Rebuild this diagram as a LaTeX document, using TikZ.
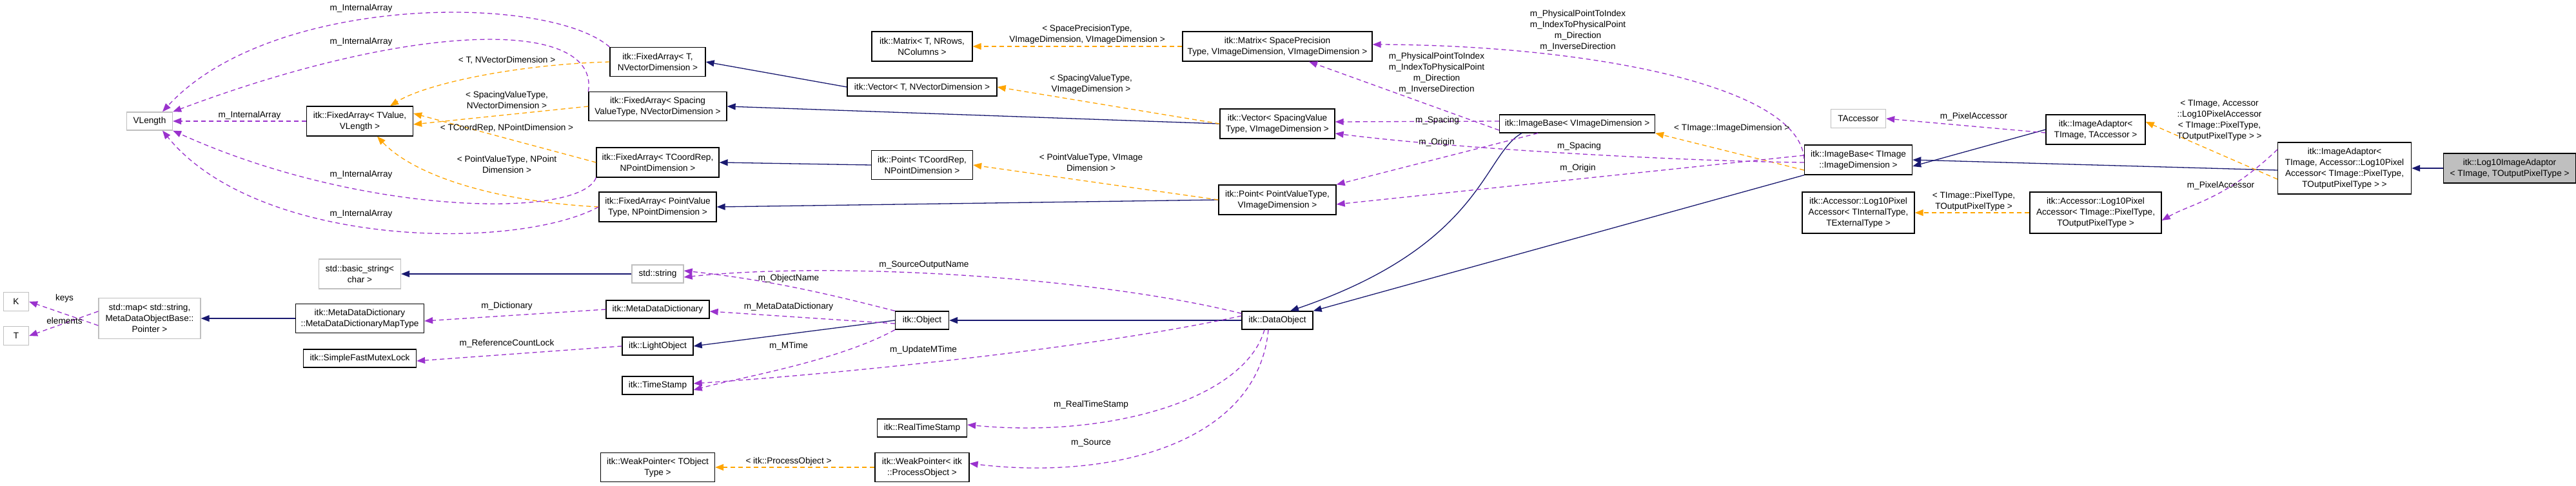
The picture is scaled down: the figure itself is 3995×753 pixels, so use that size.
\documentclass[tikz,border=0pt]{standalone}
\usepackage{fontspec}
\setmainfont{Liberation Sans}
\usetikzlibrary{arrows.meta}
\definecolor{inh}{HTML}{191970}
\definecolor{use}{HTML}{9A32CD}
\definecolor{tpl}{HTML}{FFA500}
\definecolor{ext}{HTML}{BFBFBF}
\begin{document}
\begin{tikzpicture}[x=1pt,y=-1pt,
  font=\fontsize{13.6}{17}\selectfont,
  box/.style={draw=black,line width=1.3pt,fill=white,align=center,inner sep=2pt},
  xbox/.style={box,draw=ext},
  lbl/.style={align=center,inner sep=0pt,fill=none},
  tip/.style={-{Triangle[length=13pt,width=10pt]}},
  inhe/.style={tip,draw=inh,line width=1.3pt},
  usee/.style={tip,draw=use,line width=1.3pt,dash pattern=on 7pt off 5pt},
  tple/.style={tip,draw=tpl,line width=1.3pt,dash pattern=on 7pt off 5pt}]
\useasboundingbox[fill=white] (0,0) rectangle (3995,753);
% nodes
\node[xbox,minimum width=71pt,minimum height=28pt] (vlen) at (232,188) {VLength};
\node[box,minimum width=165pt,minimum height=46pt] (fav) at (558,188) {itk::FixedArray< TValue,\\VLength >};
\node[box,minimum width=148pt,minimum height=45pt] (fat) at (1020,96) {itk::FixedArray< T,\\NVectorDimension >};
\node[box,minimum width=214pt,minimum height=45pt] (fas) at (1020,165) {itk::FixedArray< Spacing\\ValueType, NVectorDimension >};
\node[box,minimum width=190pt,minimum height=46pt] (fac) at (1020,252) {itk::FixedArray< TCoordRep,\\NPointDimension >};
\node[box,minimum width=182pt,minimum height=46pt] (fap) at (1020,321) {itk::FixedArray< PointValue\\Type, NPointDimension >};
\node[box,minimum width=156pt,minimum height=46pt] (mt) at (1430,72) {itk::Matrix< T, NRows,\\NColumns >};
\node[box,minimum width=232pt,minimum height=28pt] (vt) at (1430,135) {itk::Vector< T, NVectorDimension >};
\node[box,minimum width=157pt,minimum height=45pt] (pt) at (1430,256) {itk::Point< TCoordRep,\\NPointDimension >};
\node[box,minimum width=294pt,minimum height=46pt] (ms) at (1981,72) {itk::Matrix< SpacePrecision\\Type, VImageDimension, VImageDimension >};
\node[box,minimum width=178pt,minimum height=46pt] (vs) at (1981,192) {itk::Vector< SpacingValue\\Type, VImageDimension >};
\node[box,minimum width=182pt,minimum height=46pt] (pp) at (1981,310) {itk::Point< PointValueType,\\VImageDimension >};
\node[box,minimum width=241pt,minimum height=28pt] (ibv) at (2446,192) {itk::ImageBase< VImageDimension >};
\node[xbox,minimum width=85pt,minimum height=29pt] (tacc) at (2882,184) {TAccessor};
\node[box,minimum width=167pt,minimum height=46pt] (ibt) at (2882,248) {itk::ImageBase< TImage\\::ImageDimension >};
\node[box,minimum width=154pt,minimum height=46pt] (iat) at (3250,201) {itk::ImageAdaptor<\\TImage, TAccessor >};
\node[box,minimum width=207pt,minimum height=80pt] (ial) at (3636,261) {itk::ImageAdaptor<\\TImage, Accessor::Log10Pixel\\Accessor< TImage::PixelType,\\TOutputPixelType > >};
\node[box,fill=ext,minimum width=205pt,minimum height=46pt] (log) at (3892,261) {itk::Log10ImageAdaptor\\< TImage, TOutputPixelType >};
\node[box,minimum width=204pt,minimum height=64pt] (acp) at (3250,330) {itk::Accessor::Log10Pixel\\Accessor< TImage::PixelType,\\TOutputPixelType >};
\node[box,minimum width=174pt,minimum height=64pt] (aci) at (2882,330) {itk::Accessor::Log10Pixel\\Accessor< TInternalType,\\TExternalType >};
\node[xbox,minimum width=127pt,minimum height=46pt] (bstr) at (558,425) {std::basic\_string<\\char >};
\node[xbox,minimum width=39pt,minimum height=29pt] (k) at (25,468) {K};
\node[xbox,minimum width=39pt,minimum height=29pt] (t) at (25,521) {T};
\node[xbox,minimum width=158pt,minimum height=63pt] (map) at (232,494) {std::map< std::string,\\MetaDataObjectBase::\\Pointer >};
\node[box,minimum width=199pt,minimum height=45pt] (mdm) at (558,494) {itk::MetaDataDictionary\\::MetaDataDictionaryMapType};
\node[box,minimum width=175pt,minimum height=28pt] (sfm) at (558,556) {itk::SimpleFastMutexLock};
\node[xbox,minimum width=80pt,minimum height=28pt] (str) at (1020,425) {std::string};
\node[box,minimum width=160pt,minimum height=28pt] (mdd) at (1020,480) {itk::MetaDataDictionary};
\node[box,minimum width=110pt,minimum height=28pt] (lo) at (1020,537) {itk::LightObject};
\node[box,minimum width=110pt,minimum height=28pt] (ts) at (1020,598) {itk::TimeStamp};
\node[box,minimum width=83pt,minimum height=28pt] (obj) at (1430,497) {itk::Object};
\node[box,minimum width=139pt,minimum height=28pt] (rts) at (1430,664) {itk::RealTimeStamp};
\node[box,minimum width=177pt,minimum height=45pt] (wpt) at (1020,725) {itk::WeakPointer< TObject\\Type >};
\node[box,minimum width=146pt,minimum height=45pt] (wpp) at (1430,725) {itk::WeakPointer< itk\\::ProcessObject >};
\node[box,minimum width=110pt,minimum height=28pt] (dob) at (1981,497) {itk::DataObject};
% inheritance
\draw[inhe] (log.west) -- (ial.east|-log.west);
\draw[inhe] ([yshift=-3pt]ial.west) -- (ibt.east);
\draw[inhe] (iat.west) -- ([yshift=-10pt]ibt.east);
\draw[inhe] (ibt.south west) -- (dob.north east);
\draw[inhe] ([xshift=-86pt]ibv.south) .. controls (2300,240) and (2300,380) .. ([xshift=20pt]dob.north);
\draw[inhe] (dob.west) -- (obj.east);
\draw[inhe] (obj.west) -- (lo.east);
\draw[inhe] (str.west) -- (bstr.east);
\draw[inhe] (mdm.west) -- (map.east);
\draw[inhe] (vt.west) -- (fat.east);
\draw[inhe] (vs.west) -- (fas.east);
\draw[inhe] (pt.west) -- (fac.east);
\draw[inhe] (pp.west) -- (fap.east);
% templates
\draw[tple] (fat.west) .. controls (800,100) and (660,130) .. ([xshift=47pt]fav.north);
\draw[tple] (fas.west) -- ([yshift=-5pt]fav.east);
\draw[tple] (fac.west) -- ([yshift=12pt]fav.east);
\draw[tple] (fap.west) .. controls (760,312) and (640,270) .. ([xshift=27pt]fav.south);
\draw[tple] (ms.west) -- (mt.east);
\draw[tple] (vs.west) -- (vt.east);
\draw[tple] (pp.west) -- (pt.east);
\draw[tple] ([yshift=-16pt]ibt.west) -- (ibv.south east);
\draw[tple] ([yshift=-17pt]ial.west) -- ([yshift=12pt]iat.east);
\draw[tple] (acp.west) -- (aci.east);
\draw[tple] (wpp.west) -- (wpt.east);
% usage
\draw[usee] (fav.west) -- (vlen.east);
\draw[usee] (fat.north west) .. controls (850,-10) and (420,-10) .. ([xshift=20pt]vlen.north);
\draw[usee] (fas.north west) .. controls (930,30) and (650,30) .. (vlen.north east);
\draw[usee] (fac.south west) .. controls (900,340) and (560,335) .. (vlen.south east);
\draw[usee] (fap.west) .. controls (800,390) and (400,385) .. ([xshift=20pt]vlen.south);
\draw[usee] ([yshift=-10pt]ibv.west) -- ([xshift=49pt]ms.south);
\draw[usee] ([yshift=-22pt]ibt.north west) .. controls (2790,130) and (2450,70) .. ([yshift=3pt]ms.east);
\draw[usee] ([yshift=4pt]ibv.west) -- ([yshift=3pt]vs.east);
\draw[usee] ([xshift=-61pt]ibv.south) -- (pp.north east);
\draw[usee] ([yshift=-4pt]ibt.west) .. controls (2600,250) and (2250,230) .. ([yshift=-15pt]vs.east);
\draw[usee] ([yshift=7pt]ibt.west) -- ([yshift=-7pt]pp.east);
\draw[usee] ([yshift=-5pt]iat.west) -- (tacc.east);
\draw[usee] ([yshift=29pt]ial.west) .. controls (3450,310) and (3400,315) .. ([yshift=-12pt]acp.east);
\draw[usee] ([yshift=-11pt]map.west) -- (k.east);
\draw[usee] ([yshift=11pt]map.west) -- (t.east);
\draw[usee] (mdd.west) -- ([yshift=-4pt]mdm.east);
\draw[usee] (lo.west) -- ([yshift=-4pt]sfm.east);
\draw[usee] (obj.north west) .. controls (1300,460) and (1200,435) .. ([yshift=5pt]str.east);
\draw[usee] ([yshift=-4pt]dob.north west) .. controls (1700,430) and (1300,405) .. ([yshift=-5pt]str.east);
\draw[usee] ([yshift=-5pt]obj.west) -- ([yshift=-3pt]mdd.east);
\draw[usee] (obj.south west) .. controls (1300,560) and (1150,585) .. ([yshift=-7pt]ts.east);
\draw[usee] ([yshift=7pt]dob.west) .. controls (1700,540) and (1300,580) .. ([yshift=3pt]ts.east);
\draw[usee] ([xshift=-20pt]dob.south) .. controls (1930,620) and (1720,680) .. ([yshift=5pt]rts.east);
\draw[usee] ([xshift=-14pt]dob.south) .. controls (1950,690) and (1720,745) .. ([yshift=6pt]wpp.east);
% labels
\node[lbl] (l1) at (560,13) {m\_InternalArray};
\node[lbl] (l2) at (560,65) {m\_InternalArray};
\node[lbl] (l3) at (786,93) {< T, NVectorDimension >};
\node[lbl] (l4) at (786,155) {< SpacingValueType,\\NVectorDimension >};
\node[lbl] (l5) at (387,179) {m\_InternalArray};
\node[lbl] (l6) at (786,199) {< TCoordRep, NPointDimension >};
\node[lbl] (l7) at (786,255) {< PointValueType, NPoint\\Dimension >};
\node[lbl] (l8) at (560,271) {m\_InternalArray};
\node[lbl] (l9) at (560,332) {m\_InternalArray};
\node[lbl] (l10) at (1686,53) {< SpacePrecisionType,\\VImageDimension, VImageDimension >};
\node[lbl] (l11) at (1692,130) {< SpacingValueType,\\VImageDimension >};
\node[lbl] (l12) at (1692,252) {< PointValueType, VImage\\Dimension >};
\node[lbl] (l13) at (2447,47) {m\_PhysicalPointToIndex\\m\_IndexToPhysicalPoint\\m\_Direction\\m\_InverseDirection};
\node[lbl] (l14) at (2228,113) {m\_PhysicalPointToIndex\\m\_IndexToPhysicalPoint\\m\_Direction\\m\_InverseDirection};
\node[lbl] (l15) at (2229,187) {m\_Spacing};
\node[lbl] (l16) at (2228,221) {m\_Origin};
\node[lbl] (l17) at (2449,227) {m\_Spacing};
\node[lbl] (l18) at (2447,261) {m\_Origin};
\node[lbl,anchor=west] (l19) at (2596,199) {< TImage::ImageDimension >};
\node[lbl] (l20) at (3061,181) {m\_PixelAccessor};
\node[lbl] (l21) at (3442,187) {< TImage, Accessor\\::Log10PixelAccessor\\< TImage::PixelType,\\TOutputPixelType > >};
\node[lbl] (l22) at (3444,288) {m\_PixelAccessor};
\node[lbl] (l23) at (3061,312) {< TImage::PixelType,\\TOutputPixelType >};
\node[lbl] (l24) at (100,463) {keys};
\node[lbl] (l25) at (100,498) {elements};
\node[lbl] (l26) at (786,475) {m\_Dictionary};
\node[lbl] (l27) at (786,533) {m\_ReferenceCountLock};
\node[lbl] (l28) at (1433,411) {m\_SourceOutputName};
\node[lbl] (l29) at (1223,432) {m\_ObjectName};
\node[lbl] (l30) at (1223,476) {m\_MetaDataDictionary};
\node[lbl] (l31) at (1223,537) {m\_MTime};
\node[lbl] (l32) at (1432,543) {m\_UpdateMTime};
\node[lbl] (l33) at (1692,628) {m\_RealTimeStamp};
\node[lbl] (l34) at (1692,687) {m\_Source};
\node[lbl] (l35) at (1223,716) {< itk::ProcessObject >};
\end{tikzpicture}
\end{document}
